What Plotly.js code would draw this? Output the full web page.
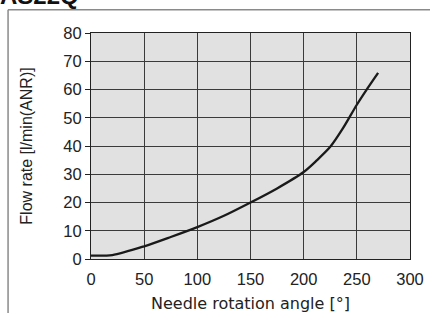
<!DOCTYPE html>
<html>
<head>
<meta charset="utf-8">
<script src="https://cdn.plot.ly/plotly-3.0.1.min.js"></script>
<style>html,body{margin:0;padding:0;background:#fff;}#chart{width:430px;height:313px;}</style>
</head>
<body>
<div id="chart"></div>
<script>
const angle = [0, 20, 50, 75, 100, 125, 150, 175, 200, 212, 225, 237, 250, 260, 270];
const flow = [1.2, 1.4, 4.5, 7.8, 11.3, 15.3, 20.0, 25.0, 30.8, 34.8, 39.7, 46.3, 54.6, 60.4, 65.9];
const xTicks = [0, 50, 100, 150, 200, 250, 300];
const yTicks = [0, 10, 20, 30, 40, 50, 60, 70, 80];
const titleText = "AS22Q";
const xTitle = "Needle rotation angle [°]";
const yTitle = "Flow rate [l/min(ANR)]";

const font = "Liberation Sans, Arial, Helvetica, sans-serif";
const data = [{
  x: angle, y: flow, type: 'scatter', mode: 'lines',
  line: {color: '#1a1a1a', width: 2.3, shape: 'spline', smoothing: 0.8},
  hoverinfo: 'skip'
}];
const layout = {
  width: 430, height: 313,
  margin: {l: 91, r: 20, t: 33, b: 54},
  paper_bgcolor: '#ffffff', plot_bgcolor: '#e1e1e1',
  showlegend: false,
  font: {family: font, color: '#222', size: 16},
  xaxis: {
    range: [0, 300], tickvals: xTicks, ticktext: xTicks.map(String),
    showgrid: true, gridcolor: '#3a3a3a', gridwidth: 1,
    zeroline: false, showline: true, linecolor: '#222', linewidth: 1, mirror: true,
    ticks: 'outside', ticklen: 5, tickcolor: 'rgba(0,0,0,0)',
    tickfont: {size: 16.5, family: font, color: '#222'},
    title: {text: xTitle, font: {size: 16, family: "DejaVu Sans, sans-serif", color: '#222'}, standoff: 13},
    fixedrange: true
  },
  yaxis: {
    range: [0, 80], tickvals: yTicks, ticktext: yTicks.map(String),
    showgrid: true, gridcolor: '#3a3a3a', gridwidth: 1,
    zeroline: false, showline: true, linecolor: '#222', linewidth: 1, mirror: true,
    ticks: 'outside', ticklen: 5, tickcolor: '#222',
    tickfont: {size: 16.5, family: font, color: '#222'},
    title: {text: yTitle, font: {size: 16, family: font, color: '#222'}, standoff: 26},
    fixedrange: true
  },
  shapes: [
    {type: 'line', xref: 'paper', yref: 'paper', x0: -0.26, x1: 1.07, y0: 1.103, y1: 1.103, line: {color: '#8a8a8a', width: 1.5}},
    {type: 'line', xref: 'paper', yref: 'paper', x0: -0.26, x1: -0.26, y0: 1.103, y1: -0.3, line: {color: '#8a8a8a', width: 1.5}}
  ],
  annotations: [{
    text: '<b>' + titleText + '</b>', xref: 'paper', yref: 'paper',
    x: -0.29, y: 1.099, xanchor: 'left', yanchor: 'bottom', showarrow: false,
    font: {size: 24, family: font, color: '#111'}
  }]
};
Plotly.newPlot('chart', data, layout, {displayModeBar: false, staticPlot: true});
</script>
</body>
</html>
